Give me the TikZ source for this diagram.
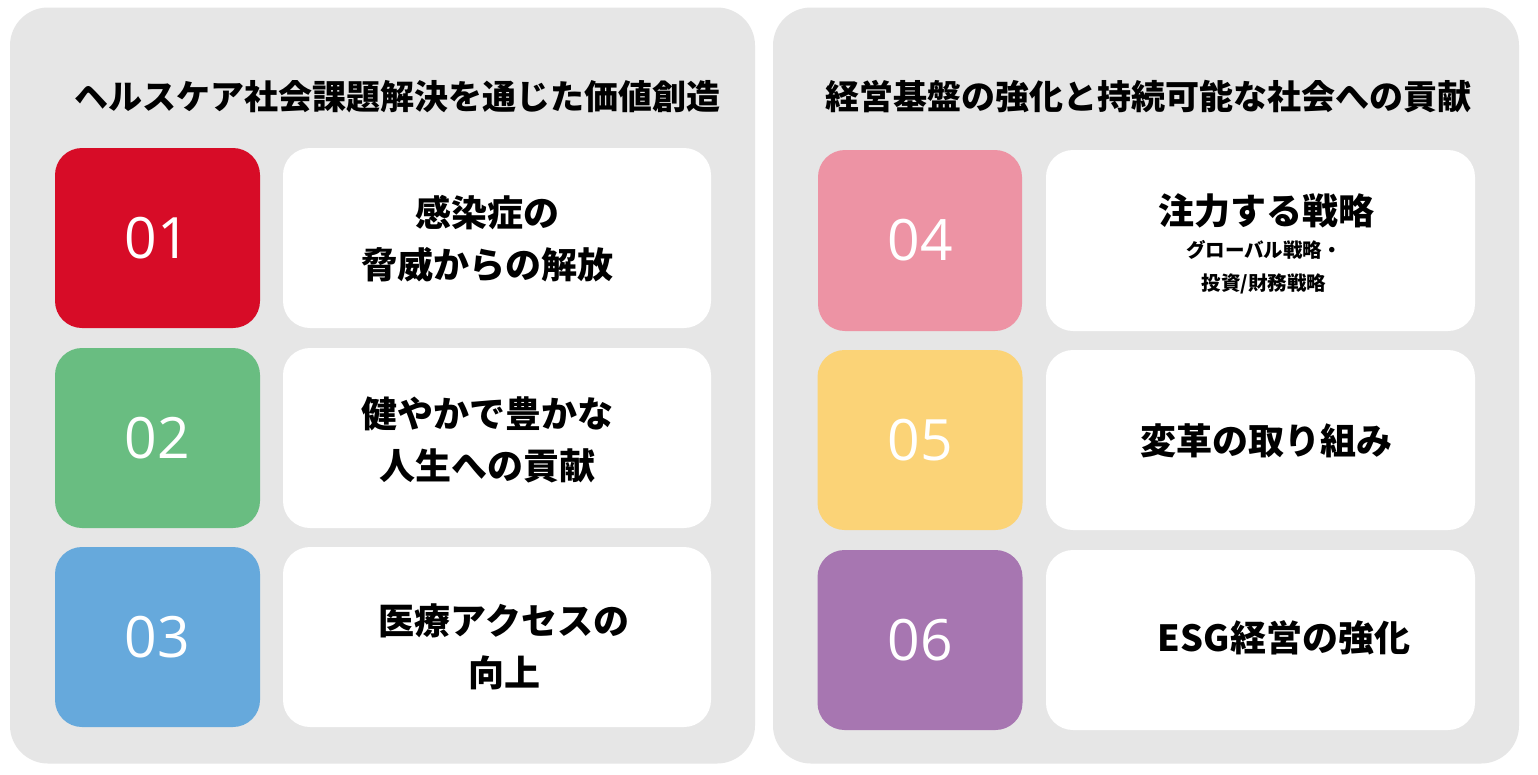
\documentclass[tikz,border=0pt]{standalone}
\usepackage{fontspec}
\setmainfont{Noto Sans CJK JP}
\newfontfamily\numfont{Open Sans}
\definecolor{panelgray}{HTML}{E6E6E6}
\definecolor{cred}{HTML}{D70C27}
\definecolor{cgreen}{HTML}{69BD81}
\definecolor{cblue}{HTML}{66A9DC}
\definecolor{cpink}{HTML}{ED93A4}
\definecolor{cyellow}{HTML}{FBD377}
\definecolor{cpurple}{HTML}{A776B1}
\begin{document}
\begin{tikzpicture}[x=1pt,y=-1pt,
  panel/.style={fill=panelgray, rounded corners=38pt, inner sep=0pt},
  numbox/.style={rounded corners=27pt, minimum width=205pt, minimum height=180pt, inner sep=0pt, text=white, font=\numfont\fontsize{57}{60}\selectfont},
  txtbox/.style={fill=white, rounded corners=27pt, minimum width=428pt, minimum height=180pt, inner sep=0pt},
  ttl/.style={font=\bfseries\fontsize{34}{40}\selectfont, inner sep=0pt},
  lbl/.style={font=\bfseries\fontsize{36}{52}\selectfont, align=center, inner sep=0pt},
  sublbl/.style={font=\bfseries\fontsize{19.5}{33}\selectfont, align=center, inner sep=0pt}]
\useasboundingbox (0,0) rectangle (1538,774);
\fill[white] (0,0) rectangle (1538,774);
% panels
\node[panel, minimum width=745pt, minimum height=756pt] (lp) at (382.5,385.5) {};
\node[panel, minimum width=746pt, minimum height=756pt] (rp) at (1146,385.5) {};
% titles
\node[ttl] (lt) at (397,97) {ヘルスケア社会課題解決を通じた価値創造};
\node[ttl] (rt) at (1148,97) {経営基盤の強化と持続可能な社会への貢献};
% left column
\node[numbox, fill=cred] (n1) at (157.5,238) {01};
\node[numbox, fill=cgreen] (n2) at (157.5,438) {02};
\node[numbox, fill=cblue] (n3) at (157.5,637) {03};
\node[txtbox] (w1) at (497,238) {};
\node[txtbox] (w2) at (497,438) {};
\node[txtbox] (w3) at (497,637) {};
\node[lbl] (t1) at (487,239) {感染症の\\脅威からの解放};
\node[lbl] (t2) at (487,440) {健やかで豊かな\\人生への貢献};
\node[lbl] (t3) at (504,647) {医療アクセスの\\向上};
% right column
\node[numbox, fill=cpink, minimum width=204pt, minimum height=181pt] (n4) at (920,240.5) {04};
\node[numbox, fill=cyellow] (n5) at (920,440) {05};
\node[numbox, fill=cpurple] (n6) at (920,640) {06};
\node[txtbox, minimum width=429pt, minimum height=181pt] (w4) at (1260.5,240.5) {};
\node[txtbox, minimum width=429pt] (w5) at (1260.5,440) {};
\node[txtbox, minimum width=429pt] (w6) at (1260.5,640) {};
\node[lbl] (t4) at (1266,211) {注力する戦略};
\node[sublbl] (s4) at (1264,267) {グローバル戦略・\\投資/財務戦略};
\node[lbl] (t5) at (1266,441) {変革の取り組み};
\node[lbl] (t6) at (1284,638) {ESG経営の強化};
\end{tikzpicture}
\end{document}
